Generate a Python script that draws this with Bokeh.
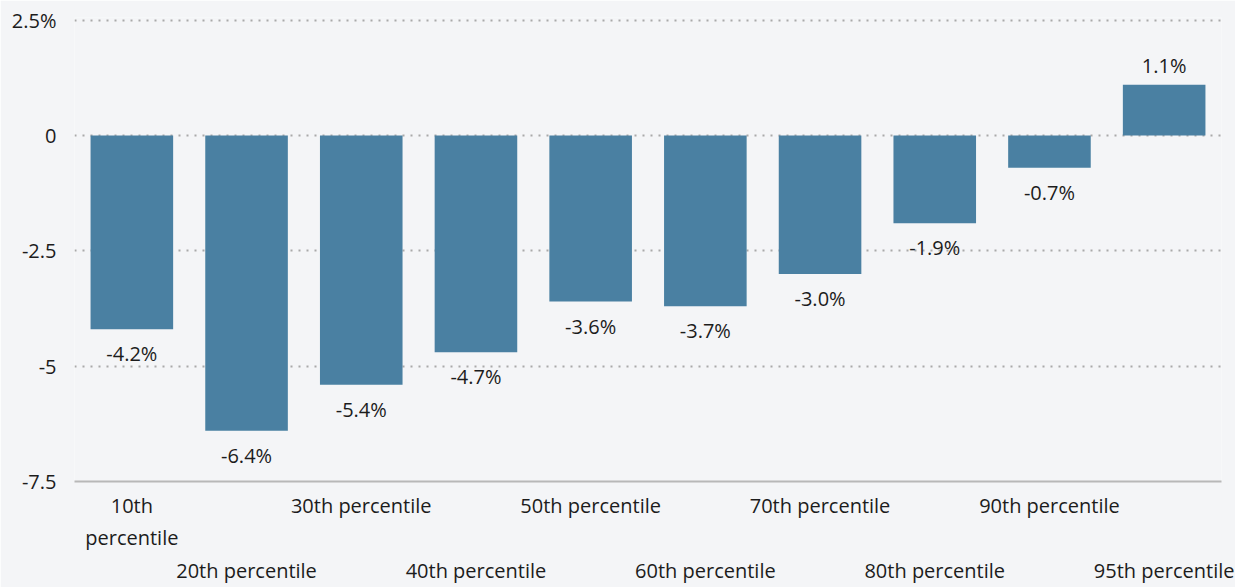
from bokeh.plotting import figure
from bokeh.models import Range1d, FixedTicker, ColumnDataSource
from bokeh.core.properties import value
from bokeh.embed import file_html
from bokeh.resources import INLINE

categories = ["10th percentile", "20th percentile", "30th percentile", "40th percentile",
              "50th percentile", "60th percentile", "70th percentile", "80th percentile",
              "90th percentile", "95th percentile"]
tick_labels = ["10th\npercentile", "20th percentile", "30th percentile", "40th percentile",
               "50th percentile", "60th percentile", "70th percentile", "80th percentile",
               "90th percentile", "95th percentile"]
values = [-4.2, -6.4, -5.4, -4.7, -3.6, -3.7, -3.0, -1.9, -0.7, 1.1]
value_labels = ["-4.2%", "-6.4%", "-5.4%", "-4.7%", "-3.6%", "-3.7%", "-3.0%", "-1.9%", "-0.7%", "1.1%"]
y_ticks = [2.5, 0, -2.5, -5, -7.5]
y_tick_labels = ["2.5%", "0", "-2.5", "-5", "-7.5"]

BG = "#f4f5f7"
BAR = "#4a80a2"
TXT = "#1c1c1c"
FONT = "Open Sans"
FS = "20px"

y_min, y_max = min(y_ticks), max(y_ticks)
xs = list(range(len(categories)))

p = figure(width=1235, height=587, output_backend="svg", toolbar_location=None,
           x_range=Range1d(-0.5, len(categories) - 0.5),
           y_range=Range1d(y_min, y_max + 0.06),
           min_border_left=74, min_border_right=14, min_border_top=17, min_border_bottom=100)
p.background_fill_color = BG
p.border_fill_color = BG
p.outline_line_color = None
p.xgrid.visible = False

# y axis
p.yaxis.ticker = FixedTicker(ticks=y_ticks)
p.yaxis.major_label_overrides = {t: l for t, l in zip(y_ticks, y_tick_labels)}
p.yaxis.axis_line_color = None
p.yaxis.major_tick_line_color = None
p.yaxis.major_tick_out = 0
p.yaxis.minor_tick_line_color = None
p.yaxis.major_label_standoff = 18
p.yaxis.major_label_text_font = FONT
p.yaxis.major_label_text_font_size = FS
p.yaxis.major_label_text_color = TXT

p.ygrid.ticker = FixedTicker(ticks=y_ticks)
p.ygrid.grid_line_color = "#a9a9a9"
p.ygrid.grid_line_dash = "2 6"
p.ygrid.grid_line_width = 2

# x axis with staggered labels
p.xaxis.ticker = FixedTicker(ticks=xs)
p.xaxis.major_label_overrides = {
    i: (lab if i % 2 == 0 else "\n\n" + lab) for i, lab in zip(xs, tick_labels)
}
p.xaxis.axis_line_color = "#b8b8b8"
p.xaxis.axis_line_width = 2
p.xaxis.major_tick_line_color = None
p.xaxis.major_tick_out = 0
p.xaxis.minor_tick_line_color = None
p.xaxis.major_label_standoff = 10
p.xaxis.major_label_text_font = FONT
p.xaxis.major_label_text_font_size = FS
p.xaxis.major_label_text_color = TXT
p.xaxis.major_label_text_line_height = 1.22

src = ColumnDataSource(dict(
    x=xs, top=values, txt=value_labels,
    vbase=["top" if v < 0 else "bottom" for v in values],
    yoff=[11 if v < 0 else -6 for v in values],
))
p.vbar(x="x", top="top", bottom=0, width=0.72, source=src, fill_color=BAR, line_color=None)
p.text(x="x", y="top", text="txt", source=src, text_align="center", text_baseline="vbase",
       y_offset="yoff", text_font=value(FONT), text_font_size=FS, text_color=TXT)

open("out.html", "w").write(file_html(p, INLINE))
